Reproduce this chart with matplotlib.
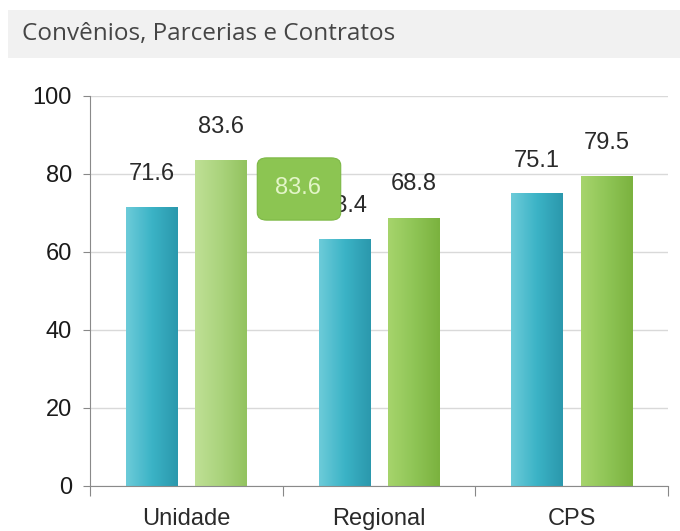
import numpy as np
import matplotlib
matplotlib.use('Agg')
import matplotlib.pyplot as plt
from matplotlib.patches import FancyBboxPatch, Rectangle
from matplotlib.colors import LinearSegmentedColormap

categories = ['Unidade', 'Regional', 'CPS']
serie_a = [71.6, 63.4, 75.1]
serie_b = [83.6, 68.8, 79.5]
yticks = [0, 20, 40, 60, 80, 100]
title = 'Convênios, Parcerias e Contratos'
tooltip = '83.6'

FS = 17

fig = plt.figure(figsize=(6.8, 5.31), dpi=100)
fig.patch.set_facecolor('white')

# faixa cinza do titulo
fig.patches.append(Rectangle((8/680, 1-58/531), 672/680, 48/531, transform=fig.transFigure,
                             facecolor='#f1f1f1', edgecolor='none', zorder=0))
fig.text(22/680, 1-34/531, title, fontsize=17.5, color='#454545', family='Open Sans', va='center')

ax = fig.add_axes([90/680, 1-486/531, 578/680, 390/531])
ax.set_xlim(0, 3)
ax.set_ylim(0, 100)

blue = LinearSegmentedColormap.from_list('b', ['#6ccbd9', '#3bb3c6', '#2b98ad'])
green = LinearSegmentedColormap.from_list('g', ['#a6d46c', '#8fc556', '#7bb23f'])
green_hi = LinearSegmentedColormap.from_list('gh', ['#bfe096', '#aad37c', '#93c35f'])
grad = np.linspace(0, 1, 64).reshape(1, -1)

def bar(x, h, cmap, w=0.265):
    r = Rectangle((x - w/2, 0), w, h, facecolor='none', edgecolor='none')
    ax.add_patch(r)
    im = ax.imshow(grad, cmap=cmap, extent=[x - w/2, x + w/2, 0, h], aspect='auto', zorder=2)
    im.set_clip_path(r)

for i, cat in enumerate(categories):
    xa = i + 0.5 - 0.18
    xb = i + 0.5 + 0.18
    bar(xa, serie_a[i], blue)
    bar(xb, serie_b[i], green_hi if i == 0 else green)
    ax.text(xa, serie_a[i] + 6.8, '%.1f' % serie_a[i], ha='center', va='baseline',
            fontsize=FS, family='Liberation Sans', color='#2a2a2a', zorder=3)
    ax.text(xb, serie_b[i] + 7.0, '%.1f' % serie_b[i], ha='center', va='baseline',
            fontsize=FS, family='Liberation Sans', color='#2a2a2a', zorder=3)

ax.set_xlim(0, 3)
ax.set_ylim(0, 100)

ax.set_yticks(yticks)
ax.set_yticklabels([str(v) for v in yticks], fontsize=FS, family='Liberation Sans', color='#1a1a1a')
ax.set_xticks([0, 1, 2, 3])
ax.set_xticklabels([])
ax.set_xticks([0.5, 1.5, 2.5], minor=True)
ax.set_xticklabels(categories, minor=True, fontsize=FS, family='Liberation Sans', color='#2a2a2a')
ax.tick_params(axis='x', which='minor', length=0, pad=16)
ax.tick_params(axis='x', which='major', length=7, color='#888888', direction='out')
ax.tick_params(axis='y', length=5, color='#888888', pad=8)
ax.grid(axis='y', color='#d9d9d9', linewidth=1, zorder=0)
ax.set_axisbelow(True)
for s in ['top', 'right']:
    ax.spines[s].set_visible(False)
for s in ['left', 'bottom']:
    ax.spines[s].set_color('#8a8a8a')

# tooltip
tb = FancyBboxPatch((260/680, 1-218/531), 78/680, 58/531, transform=fig.transFigure,
                    boxstyle='round,pad=0.004,rounding_size=0.014', facecolor='#8cc552',
                    edgecolor='#7cb845', linewidth=0.8, zorder=5)
fig.patches.append(tb)
fig.text(298/680, 1-188/531, tooltip, fontsize=FS, family='Liberation Sans', color='#e3f5c8',
         ha='center', va='center', zorder=6)

fig.savefig('out.png', dpi=100)
